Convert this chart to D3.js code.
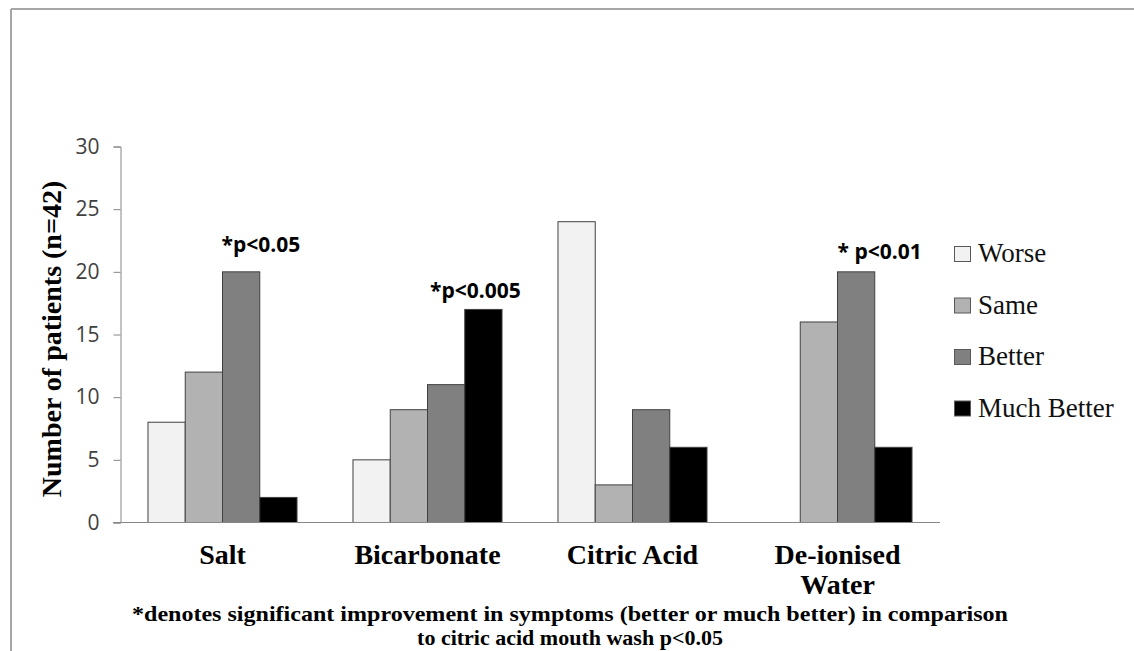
<!DOCTYPE html>
<html>
<head>
<meta charset="utf-8">
<script src="https://cdn.jsdelivr.net/npm/d3@7"></script>
<style>
  body { margin: 0; background: #fff; }
  svg { display: block; }
  .serif { font-family: "Liberation Serif", "Times New Roman", serif; }
  .sans { font-family: "Open Sans", "DejaVu Sans", sans-serif; }
</style>
</head>
<body>
<div id="chart"></div>
<script>
const categories = ['Salt', 'Bicarbonate', 'Citric Acid', 'De-ionised Water'];
const seriesNames = ['Worse', 'Same', 'Better', 'Much Better'];
const worse = [8, 5, 24, 0];
const same = [12, 9, 3, 16];
const better = [20, 11, 9, 20];
const muchBetter = [2, 17, 6, 6];
const yTicks = [0, 5, 10, 15, 20, 25, 30];
const annotations = [
  { cat: 'Salt', series: 'Better', text: '*p<0.05' },
  { cat: 'Bicarbonate', series: 'Much Better', text: '*p<0.005' },
  { cat: 'De-ionised Water', series: 'Better', text: '* p<0.01' }
];
const noteLines = [
  '*denotes significant improvement in symptoms (better or much better) in comparison',
  'to citric acid mouth wash p<0.05'
];

const width = 1134;
const height = 651;
const palette = ['#f2f2f2', '#b2b2b2', '#808080', '#000000'];

const seriesValues = [worse, same, better, muchBetter];
const rows = categories.map((c, i) => ({
  cat: c,
  values: seriesNames.map((s, j) => ({ cat: c, series: s, value: seriesValues[j][i] }))
}));

const svg = d3.select('#chart').append('svg')
  .attr('width', width)
  .attr('height', height);

// outer frame (only top and left edges show in the original)
svg.append('line')
  .attr('x1', 11).attr('x2', width).attr('y1', 9).attr('y2', 9)
  .attr('stroke', '#a6a6a6').attr('stroke-width', 2);
svg.append('line')
  .attr('x1', 11).attr('x2', 11).attr('y1', 9).attr('y2', height)
  .attr('stroke', '#a6a6a6').attr('stroke-width', 2);

const x0 = d3.scaleBand()
  .domain(categories)
  .range([120, 940])
  .paddingInner(0.273)
  .paddingOuter(0.1365);

const x1 = d3.scaleBand()
  .domain(seriesNames)
  .range([0, x0.bandwidth()]);

const y = d3.scaleLinear()
  .domain([0, 30])
  .range([522.5, 146.5]);

const color = d3.scaleOrdinal().domain(seriesNames).range(palette);

// y axis
const yAxis = svg.append('g')
  .attr('transform', 'translate(120.5,0)')
  .call(d3.axisLeft(y).tickValues(yTicks).tickSize(7).tickPadding(14));
yAxis.attr('font-family', null).attr('font-size', null);
yAxis.select('.domain').attr('stroke', '#868686');
yAxis.selectAll('.tick line').attr('stroke', '#868686');
yAxis.selectAll('.tick text')
  .attr('class', 'sans')
  .attr('font-size', 21)
  .attr('fill', '#404040');

// bars
const groups = svg.append('g')
  .selectAll('g')
  .data(rows)
  .join('g')
  .attr('transform', (d) => `translate(${x0(d.cat)},0)`);

groups.selectAll('rect')
  .data((d) => d.values)
  .join('rect')
  .attr('x', (d) => x1(d.series))
  .attr('y', (d) => y(d.value))
  .attr('width', x1.bandwidth())
  .attr('height', (d) => y(0) - y(d.value))
  .attr('fill', (d) => color(d.series))
  .attr('stroke', (d) => (d.value > 0 ? '#404040' : 'none'))
  .attr('stroke-width', 1);

// x axis line
svg.append('line')
  .attr('x1', 113).attr('x2', 940)
  .attr('y1', y(0)).attr('y2', y(0))
  .attr('stroke', '#868686');

// category labels
categories.forEach((c) => {
  const words = c === 'De-ionised Water' ? ['De-ionised', 'Water'] : [c];
  const t = svg.append('text')
    .attr('class', 'serif')
    .attr('text-anchor', 'middle')
    .attr('font-size', 28)
    .attr('font-weight', 'bold')
    .attr('fill', '#000');
  words.forEach((w, i) => {
    t.append('tspan')
      .attr('x', x0(c) + x0.bandwidth() / 2)
      .attr('y', 564 + i * 30)
      .text(w);
  });
});

// significance notes above bars
const annAnchor = { 'Salt': 'start', 'Bicarbonate': 'middle', 'De-ionised Water': 'start' };
const annShift = { 'Salt': -1, 'Bicarbonate': -8, 'De-ionised Water': 0 };
const annLift = { 'Salt': 20, 'Bicarbonate': 11, 'De-ionised Water': 13 };
annotations.forEach((a) => {
  const v = rows.find((r) => r.cat === a.cat).values.find((d) => d.series === a.series).value;
  const left = x0(a.cat) + x1(a.series);
  const bx = annAnchor[a.cat] === 'middle' ? left + x1.bandwidth() / 2 : left;
  svg.append('text')
    .attr('class', 'sans')
    .attr('x', bx + annShift[a.cat])
    .attr('y', y(v) - annLift[a.cat])
    .attr('text-anchor', annAnchor[a.cat])
    .attr('font-size', 21)
    .attr('font-weight', 'bold')
    .attr('fill', '#000')
    .text(a.text);
});

// y axis title
svg.append('text')
  .attr('class', 'serif')
  .attr('transform', 'translate(61,339) rotate(-90)')
  .attr('text-anchor', 'middle')
  .attr('font-size', 28)
  .attr('font-weight', 'bold')
  .attr('fill', '#000')
  .text('Number of patients (n=42)');

// legend
const legend = svg.append('g')
  .selectAll('g')
  .data(seriesNames)
  .join('g')
  .attr('transform', (d, i) => `translate(954,${262 + i * 51.5})`);

legend.append('rect')
  .attr('x', 0.5)
  .attr('y', -15.5)
  .attr('width', 16)
  .attr('height', 15)
  .attr('fill', (d) => color(d))
  .attr('stroke', '#595959');

legend.append('text')
  .attr('class', 'serif')
  .attr('x', 24)
  .attr('y', 0)
  .attr('font-size', 27)
  .attr('fill', '#111')
  .text((d) => d);

// footnote
noteLines.forEach((line, i) => {
  const t = svg.append('text')
    .attr('class', 'serif')
    .attr('x', 570)
    .attr('y', 621 + i * 24)
    .attr('text-anchor', 'middle')
    .attr('font-size', 22)
    .attr('font-weight', 'bold')
    .attr('fill', '#000')
    .text(line);
  if (i === 0) {
    t.attr('textLength', 876).attr('lengthAdjust', 'spacingAndGlyphs');
  }
});
</script>
</body>
</html>
